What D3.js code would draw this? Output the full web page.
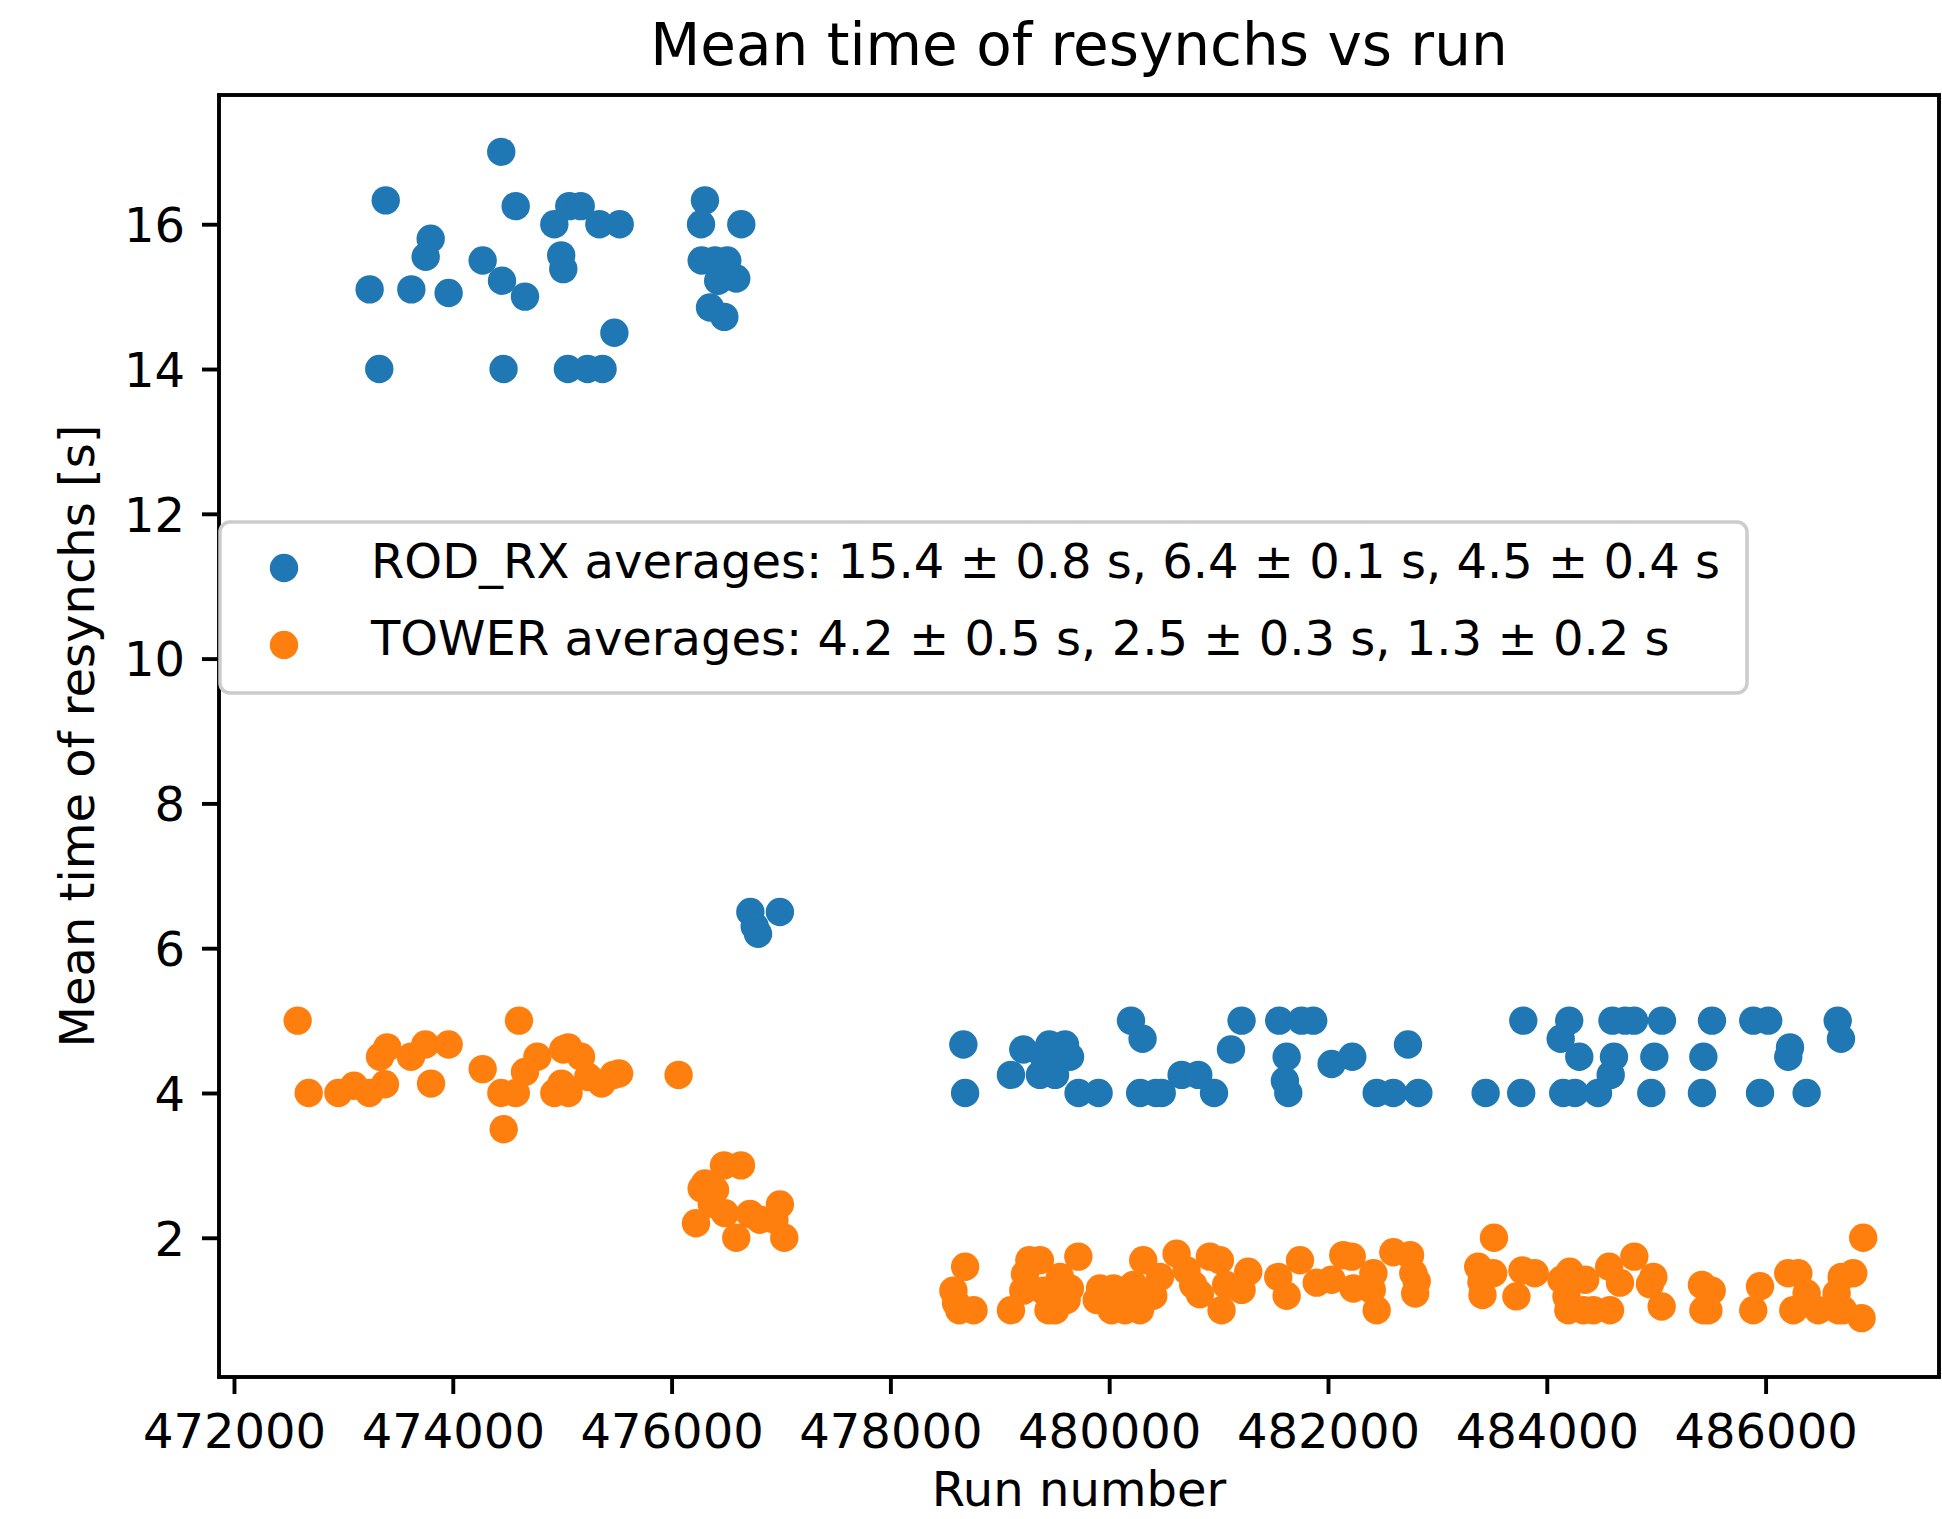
<!DOCTYPE html>
<html>
<head>
<meta charset="utf-8">
<script src="https://cdn.jsdelivr.net/npm/d3@7"></script>
<style>
  html, body { margin: 0; padding: 0; background: #fff; }
  svg { display: block; font-family: "DejaVu Sans", sans-serif; }
</style>
</head>
<body>
<svg id="chart" width="1942" height="1519"></svg>
<script>
// ROD_RX mean resynch time per run
const rodRuns = [
  473240, 473328, 473387, 473621, 473752, 473798, 473962, 474273, 474443, 474450,
  474464, 474575, 474660, 474928, 474991, 475010, 475052, 475065, 475169, 475232,
  475340, 475369, 475477, 475526, 476269, 476275, 476305, 476351, 476397, 476426,
  476482, 476509, 476591, 476637,
  476720, 476760, 476790, 476990,
  478667, 478683, 479102, 479215, 479367, 479400, 479453, 479505, 479596, 479642,
  479720, 479903, 480199, 480283, 480305, 480428, 480480, 480662, 480814, 480958,
  481113, 481210, 481554, 481606, 481622, 481637, 481758, 481865, 482033, 482222,
  482445, 482597, 482731, 482826, 483441, 483766, 483785, 484127, 484150, 484205,
  484257, 484297, 484468, 484584, 484600, 484614, 484716, 484798, 484955, 484983,
  485053, 485418, 485431, 485510, 485887, 485949, 486024, 486207, 486223, 486375,
  486659, 486689
];
const rodMeans = [
  15.1, 14.0, 16.33, 15.1, 15.55, 15.8, 15.05, 15.5, 17.0, 15.22,
  14.0, 16.25, 15.0, 16.0, 15.57, 15.38, 14.0, 16.25, 16.25, 14.0,
  16.0, 14.0, 14.5, 16.0, 16.0, 15.5, 16.33, 14.85, 15.5, 15.22,
  14.72, 15.5, 15.25, 16.0,
  6.5, 6.3, 6.2, 6.5,
  4.67, 4.0, 4.25, 4.6, 4.25, 4.5, 4.67, 4.25, 4.67, 4.5,
  4.0, 4.0, 5.0, 4.0, 4.75, 4.0, 4.0, 4.25, 4.25, 4.0,
  4.6, 5.0, 5.0, 4.17, 4.5, 4.0, 5.0, 5.0, 4.4, 4.5,
  4.0, 4.0, 4.67, 4.0, 4.0, 4.0, 5.0, 4.75, 4.0, 5.0,
  4.0, 4.5, 4.0, 4.25, 5.0, 4.5, 5.0, 5.0, 4.0, 4.5,
  5.0, 4.0, 4.5, 5.0, 5.0, 4.0, 5.0, 4.5, 4.63, 4.0,
  5.0, 4.75
];

// TOWER mean resynch time per run
const towerRuns = [
  472582, 472683, 472954, 473097, 473237, 473335, 473380, 473401, 473618, 473749,
  473801, 473962, 474273, 474444, 474465, 474576, 474605, 474660, 474773, 474928,
  474994, 475010, 475056, 475058, 475172, 475238, 475360, 475470, 475520, 476064,
  476223, 476275, 476305, 476367, 476397, 476479, 476488, 476591, 476634, 476717,
  476808, 476940, 476990, 477030,
  478576, 478600, 478630, 478683, 478760, 479102, 479215, 479230, 479270, 479367,
  479400, 479445, 479506, 479550, 479611, 479641, 479718, 479886, 479916, 480022,
  480040, 480144, 480222, 480281, 480311, 480403, 480464, 480616, 480707, 480768,
  480829, 480920, 481012, 481027, 481069, 481210, 481271, 481545, 481622, 481744,
  481897, 482033, 482140, 482217, 482232, 482400, 482415, 482445, 482597, 482750,
  482780, 482797, 482811, 483373, 483403, 483412, 483510, 483517, 483722, 483777,
  483890, 484134, 484180, 484197, 484210, 484334, 484351, 484425, 484570, 484578,
  484669, 484800, 484943, 484974, 485050, 485418, 485431, 485477, 485507, 485887,
  485949, 486207, 486253, 486299, 486375, 486481, 486649, 486664, 486695, 486710,
  486801, 486877, 486892
];
const towerMeans = [
  5.0, 4.0, 4.0, 4.1, 4.0, 4.5, 4.12, 4.63, 4.5, 4.67,
  4.13, 4.67, 4.33, 4.0, 3.5, 4.0, 5.0, 4.29, 4.5, 4.0,
  4.13, 4.6, 4.63, 4.0, 4.5, 4.22, 4.13, 4.25, 4.27, 4.25,
  2.2, 2.68, 2.75, 2.47, 2.66, 3.0, 2.34, 2.0, 3.0, 2.33,
  2.25, 2.25, 2.46, 2.0,
  1.27, 1.1, 1.0, 1.6, 1.0, 1.0, 1.27, 1.5, 1.69, 1.69,
  1.27, 1.0, 1.0, 1.46, 1.14, 1.3, 1.74, 1.14, 1.3, 1.0,
  1.3, 1.0, 1.35, 1.0, 1.69, 1.2, 1.46, 1.78, 1.55, 1.35,
  1.22, 1.74, 1.69, 1.0, 1.35, 1.28, 1.53, 1.46, 1.2, 1.69,
  1.38, 1.42, 1.76, 1.74, 1.3, 1.28, 1.51, 1.0, 1.8, 1.76,
  1.51, 1.23, 1.4, 1.6, 1.39, 1.21, 1.51, 2.0, 1.19, 1.55,
  1.51, 1.42, 1.19, 1.0, 1.53, 1.0, 1.42, 1.0, 1.6, 1.0,
  1.38, 1.74, 1.36, 1.46, 1.05, 1.35, 1.0, 1.0, 1.27, 1.0,
  1.33, 1.51, 1.0, 1.51, 1.23, 1.0, 1.23, 1.0, 1.46, 1.0,
  1.51, 0.89, 2.0
];

const xTickValues = [472000, 474000, 476000, 478000, 480000, 482000, 484000, 486000];
const yTickValues = [2, 4, 6, 8, 10, 12, 14, 16];

const seriesLabels = [
  "ROD_RX averages: 15.4 \u00b1 0.8 s, 6.4 \u00b1 0.1 s, 4.5 \u00b1 0.4 s",
  "TOWER averages: 4.2 \u00b1 0.5 s, 2.5 \u00b1 0.3 s, 1.3 \u00b1 0.2 s"
];
const seriesColors = ["#1f77b4", "#ff7f0e"];

const titleText = "Mean time of resynchs vs run";
const xLabelText = "Run number";
const yLabelText = "Mean time of resynchs [s]";

// ---- layout ----
const plot = { left: 219, right: 1939, top: 95, bottom: 1377 };
const fontTick = 48, fontTitle = 58, fontLabel = 48;
const lineW = 3.9;
const markerR = 14.2;

const svg = d3.select("#chart");

const x = d3.scaleLinear().domain([471863, 487585]).range([plot.left, plot.right]);
const y = d3.scaleLinear().domain([0.077, 17.785]).range([plot.bottom, plot.top]);

// scatter points: ROD_RX first, TOWER drawn on top
const series = [
  { runs: rodRuns, means: rodMeans, color: seriesColors[0] },
  { runs: towerRuns, means: towerMeans, color: seriesColors[1] }
];
const gPts = svg.append("g");
series.forEach(s => {
  gPts.append("g")
    .selectAll("circle")
    .data(s.runs.map((r, i) => [r, s.means[i]]))
    .join("circle")
    .attr("cx", d => x(d[0]))
    .attr("cy", d => y(d[1]))
    .attr("r", markerR)
    .attr("fill", s.color);
});

// axes
const xAxis = d3.axisBottom(x).tickValues(xTickValues).tickFormat(d3.format("d"))
  .tickSize(17).tickSizeOuter(0).tickPadding(20);
const yAxis = d3.axisLeft(y).tickValues(yTickValues).tickFormat(d3.format("d"))
  .tickSize(17).tickSizeOuter(0).tickPadding(17);

const gx = svg.append("g").attr("transform", `translate(0,${plot.bottom})`).call(xAxis);
const gy = svg.append("g").attr("transform", `translate(${plot.left},0)`).call(yAxis);
[gx, gy].forEach(g => {
  g.select(".domain").remove();
  g.attr("font-family", "DejaVu Sans, sans-serif").attr("font-size", fontTick);
  g.selectAll(".tick line").attr("stroke", "#000").attr("stroke-width", lineW);
  g.selectAll(".tick text").attr("fill", "#000");
});
gy.selectAll(".tick text").attr("dy", "0.36em");

// frame
svg.append("rect")
  .attr("x", plot.left).attr("y", plot.top)
  .attr("width", plot.right - plot.left).attr("height", plot.bottom - plot.top)
  .attr("fill", "none").attr("stroke", "#000").attr("stroke-width", lineW)
  .attr("stroke-linejoin", "miter");

// title and labels
const cx = (plot.left + plot.right) / 2;
svg.append("text").attr("x", cx).attr("y", 65).attr("text-anchor", "middle")
  .attr("font-size", fontTitle).text(titleText);
svg.append("text").attr("x", cx).attr("y", 1506).attr("text-anchor", "middle")
  .attr("font-size", fontLabel).text(xLabelText);
svg.append("text")
  .attr("transform", `translate(94,${(plot.top + plot.bottom) / 2}) rotate(-90)`)
  .attr("text-anchor", "middle").attr("font-size", fontLabel).text(yLabelText);

// legend
const lg = svg.append("g");
lg.append("rect")
  .attr("x", 220).attr("y", 522).attr("width", 1527).attr("height", 171)
  .attr("rx", 10).attr("ry", 10)
  .attr("fill", "#fff").attr("fill-opacity", 0.8)
  .attr("stroke", "#cccccc").attr("stroke-width", 3.5);
const rowY = [578, 655];
seriesLabels.forEach((lab, i) => {
  lg.append("circle").attr("cx", 284).attr("cy", rowY[i] - 10).attr("r", markerR)
    .attr("fill", seriesColors[i]);
  lg.append("text").attr("x", 371).attr("y", rowY[i]).attr("font-size", fontLabel)
    .text(lab);
});
</script>
</body>
</html>
